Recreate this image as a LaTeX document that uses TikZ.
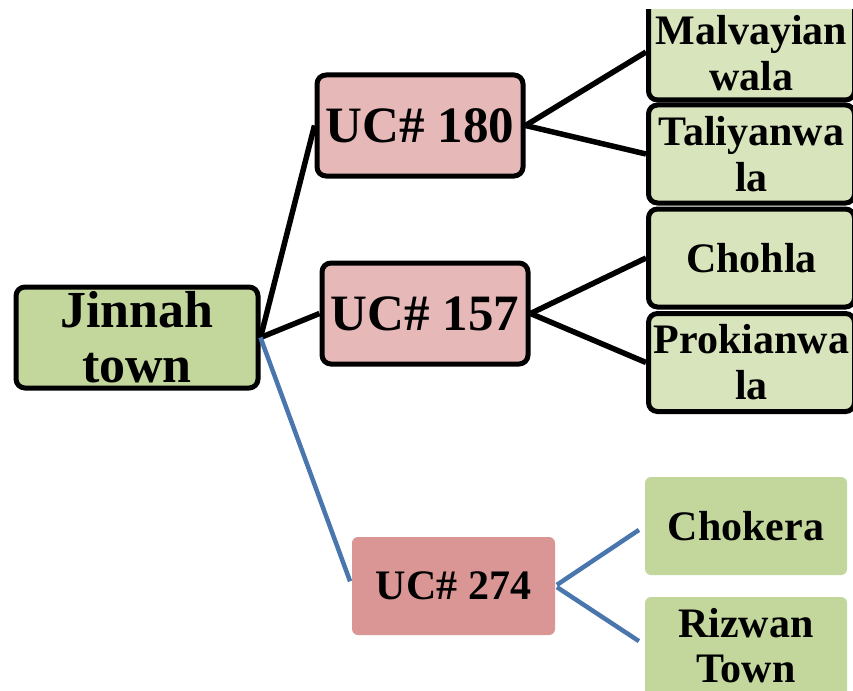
\documentclass[tikz,border=0pt]{standalone}
\usepackage{fontspec}
\setmainfont{Liberation Serif}
\definecolor{jgreen}{HTML}{C3D69B}
\definecolor{lgreen}{HTML}{D8E4BC}
\definecolor{ucpink}{HTML}{E6B9B8}
\definecolor{ucrose}{HTML}{D99694}
\definecolor{bline}{HTML}{4A76AE}
\tikzset{
  x=1pt, y=-1pt,
  boxbase/.style={rectangle, rounded corners=9pt, inner sep=0pt, align=center, font=\bfseries},
  rootbox/.style={boxbase, draw=black, line width=5pt, fill=jgreen, minimum width=242pt, minimum height=101pt, font=\fontsize{52}{55}\selectfont\bfseries},
  ucbox/.style={boxbase, draw=black, line width=5pt, fill=ucpink, minimum width=206pt, minimum height=101pt, font=\fontsize{51}{55}\selectfont\bfseries},
  ucplain/.style={boxbase, fill=ucrose, rounded corners=6pt, minimum width=203pt, minimum height=98pt, font=\fontsize{42}{46}\selectfont\bfseries},
  leafbox/.style={boxbase, draw=black, line width=5pt, fill=lgreen, minimum width=206pt, minimum height=98pt, font=\fontsize{42}{46}\selectfont\bfseries},
  leafplain/.style={boxbase, fill=jgreen, rounded corners=6pt, minimum width=202pt, minimum height=98pt, font=\fontsize{42}{45}\selectfont\bfseries},
  txt/.style={inner sep=0pt, align=center, font=\fontsize{42}{46}\selectfont\bfseries},
  kline/.style={draw=black, line width=5.5pt},
  bl/.style={draw=bline, line width=4.5pt}
}
\begin{document}
\begin{tikzpicture}
\useasboundingbox (0,0) rectangle (853,690);
\clip (0,10) rectangle (853,690);
% connectors drawn below boxes via names defined after: use background approach
% root
\node[rootbox] (jt) at (137,337.5) {Jinnah\\town};
% UCs
\node[ucbox] (u180) at (420,125.5) {UC\# 180};
\node[ucbox] (u157) at (425,313.5) {UC\# 157};
\node[ucplain] (u274) at (453.5,586) {UC\# 274};
% leaves
\node[leafbox, minimum height=124pt] (mv) at (751.5,38) {};
\node[txt] (mvt) at (751.5,53) {Malvayian\\wala};
\node[leafbox] (tw) at (751.5,154) {Taliyanwa\\la};
\node[leafbox] (ch) at (751.5,258) {Chohla};
\node[leafbox] (pk) at (751.5,362.5) {Prokianwa\\la};
\node[leafplain] (ck) at (746,526) {Chokera};
\node[leafplain, minimum height=106pt] (rz) at (746,650) {};
\node[txt, font=\fontsize{42}{45}\selectfont\bfseries] (rzt) at (746,646) {Rizwan\\Town};
% connectors
\draw[kline] (jt.east) -- (u180.west);
\draw[kline] (jt.east) -- (u157.west);
\draw[bl, shorten >=5pt] (jt.east) -- (u274.west);
\draw[kline] (u180.east) -- (mv.west |- 0,52);
\draw[kline] (u180.east) -- (tw.west);
\draw[kline] (u157.east) -- (ch.west);
\draw[kline] (u157.east) -- (pk.west);
\draw[bl, shorten <=2pt, shorten >=7pt] (u274.east) -- (ck.west);
\draw[bl, shorten <=2pt, shorten >=7pt] (u274.east) -- (rz.west |- 0,645);
\end{tikzpicture}
\end{document}
